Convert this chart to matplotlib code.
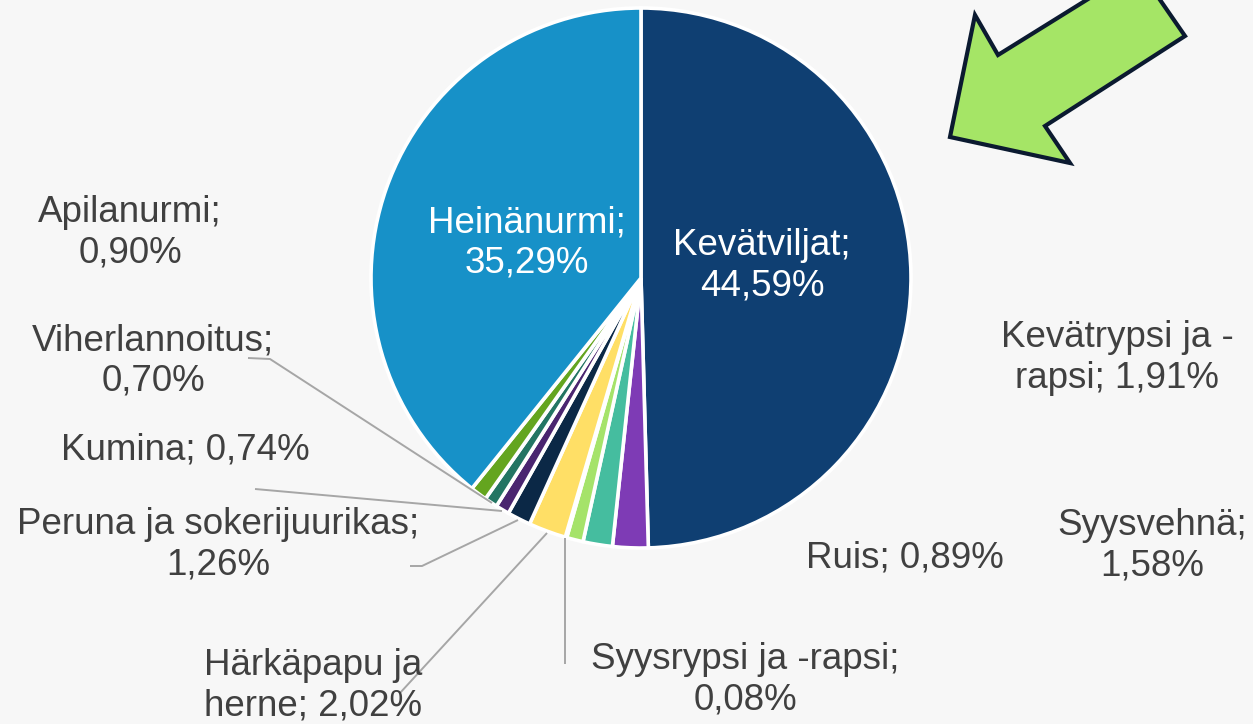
import matplotlib
matplotlib.use("Agg")
import matplotlib.pyplot as plt
from matplotlib.patches import Polygon

# ---- data ----
categories = ["Kevätviljat", "Kevätrypsi ja -rapsi", "Syysvehnä", "Ruis",
              "Syysrypsi ja -rapsi", "Härkäpapu ja herne",
              "Peruna ja sokerijuurikas", "Kumina", "Viherlannoitus",
              "Apilanurmi", "Heinänurmi"]
values = [44.59, 1.91, 1.58, 0.89, 0.08, 2.02, 1.26, 0.74, 0.70, 0.90, 35.29]
label_heads = ["Kevätviljat;", "Kevätrypsi ja -\nrapsi;", "Syysvehnä;", "Ruis;",
               "Syysrypsi ja -rapsi;", "Härkäpapu ja\nherne;",
               "Peruna ja sokerijuurikas;", "Kumina;", "Viherlannoitus;",
               "Apilanurmi;", "Heinänurmi;"]
label_seps = ["\n", " ", "\n", " ", "\n", " ", "\n", " ", "\n", "\n", "\n"]
colors = ["#0f3f72", "#7e3bb5", "#45bd9f", "#a5e36a", "#8fd3c0", "#ffdf66",
          "#0b2846", "#4a2570", "#237563", "#64a51f", "#1791c8"]

W, H = 1253, 724
fig = plt.figure(figsize=(W / 100, H / 100), dpi=100)
fig.patch.set_facecolor("#f7f7f7")
ax = fig.add_axes([0, 0, 1, 1])
ax.set_facecolor("#f7f7f7")

def Y(y):
    return H - y

cx, cy, R = 641, 278, 270
ax.pie(values, colors=colors, startangle=90, counterclock=False,
       center=(cx, Y(cy)), radius=R, frame=True,
       wedgeprops=dict(edgecolor="white", linewidth=2.6))
ax.set_xlim(0, W)
ax.set_ylim(0, H)
ax.set_aspect("equal")
ax.axis("off")

def fmt(v):
    return f"{v:.2f}".replace(".", ",") + "%"

texts = [h + s + fmt(v) for h, s, v in zip(label_heads, label_seps, values)]

# label positions (pixel coords, centre of text block)
pos = [(762, 266), (1117, 358), (1152, 546), (905, 558), (745, 680),
       (313, 686), (218, 545), (185, 450), (153, 361), (130, 233), (527, 243)]
inside = {0, 10}
font = "Liberation Sans"
for i, (t, (x, y)) in enumerate(zip(texts, pos)):
    ax.text(x, Y(y), t, ha="center", va="center", fontsize=26.5,
            family=font, color="white" if i in inside else "#404040",
            linespacing=1.2)

# leader lines
lc = "#a6a6a6"
leaders = {
    8: [(248, 358), (270, 359), (492, 503)],
    7: [(255, 489), (502, 511)],
    6: [(410, 566), (422, 566), (518, 520)],
    5: [(400, 693), (547, 533)],
    4: [(565, 538), (565, 664)],
}
for k, pts in leaders.items():
    ax.plot([p[0] for p in pts], [Y(p[1]) for p in pts], color=lc, lw=1.4,
            solid_capstyle="butt")

# green arrow
arrow = [(950, 137), (975, 15), (998, 55), (1138, -32), (1185, 36),
         (1045, 126), (1070, 163)]
ax.add_patch(Polygon([(x, Y(y)) for x, y in arrow], closed=True,
                     facecolor="#a5e566", edgecolor="#0b1a30", lw=3,
                     joinstyle="miter"))

fig.savefig("out.png", dpi=100, facecolor=fig.get_facecolor())
